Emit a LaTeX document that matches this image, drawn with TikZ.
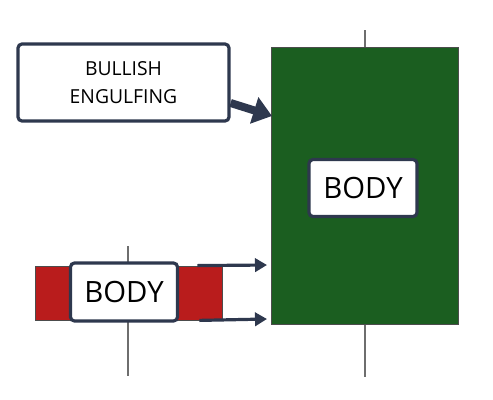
\documentclass[tikz,border=0pt]{standalone}
\usepackage{fontspec}
\setmainfont{Open Sans}
\usetikzlibrary{arrows.meta}
\definecolor{bullgreen}{RGB}{27,94,32}
\definecolor{bearred}{RGB}{185,28,28}
\definecolor{navyline}{RGB}{46,56,78}
\definecolor{wickgray}{RGB}{110,110,110}
\tikzset{
  wick/.style={draw=wickgray, line width=0.9pt},
  candle/.style={draw=black!70, line width=0.6pt, inner sep=0pt},
  tag/.style={draw=navyline, fill=white, line width=2.4pt, rounded corners=3pt, inner sep=0pt, align=center},
  pointer/.style={draw=navyline, line width=2.4pt, -{Triangle[length=9pt,width=10pt]}},
  bigpointer/.style={draw=navyline, line width=6pt, -{Triangle[length=14pt,width=20pt]}}
}
\begin{document}
\begin{tikzpicture}[x=0.75pt,y=-0.75pt]
    \useasboundingbox (0,0) rectangle (493,400);

    % candles
    \coordinate (gtop) at (365,30);
    \coordinate (gbot) at (365,377);
    \coordinate (rtop) at (128,246);
    \coordinate (rbot) at (128,376);
    \draw[wick] (gtop) -- (gbot);
    \draw[wick] (rtop) -- (rbot);
    \node[candle, fill=bullgreen, minimum width=140.25pt, minimum height=207.75pt] (green) at (364.5,185.5) {};
    \node[candle, fill=bearred, minimum width=140.25pt, minimum height=40.5pt] (red) at (128.5,293) {};

    % labels
    \node[tag, minimum width=81pt, minimum height=42.75pt, font=\fontsize{22}{24}\selectfont] (gbody) at (363,188) {BODY};
    \node[tag, minimum width=80.25pt, minimum height=43.5pt, font=\fontsize{22}{24}\selectfont] (rbody) at (124,292) {BODY};
    \node[tag, minimum width=158.25pt, minimum height=57.75pt, font=\fontsize{14.5}{20.5}\selectfont] (bullish) at (123.5,82.5) {BULLISH\\ENGULFING};

    % pointers
    \coordinate (hi) at (267,265);
    \coordinate (lo) at (267,319);
    \coordinate (tip) at (272,116);
    \draw[pointer] (red.north east) ++(-25,0) coordinate (hs) -- (hi);
    \draw[pointer] (red.south east) ++(-23,0) coordinate (ls) -- (lo);
    \draw[bigpointer] (bullish.east |- 0,103) -- (tip);
\end{tikzpicture}
\end{document}
